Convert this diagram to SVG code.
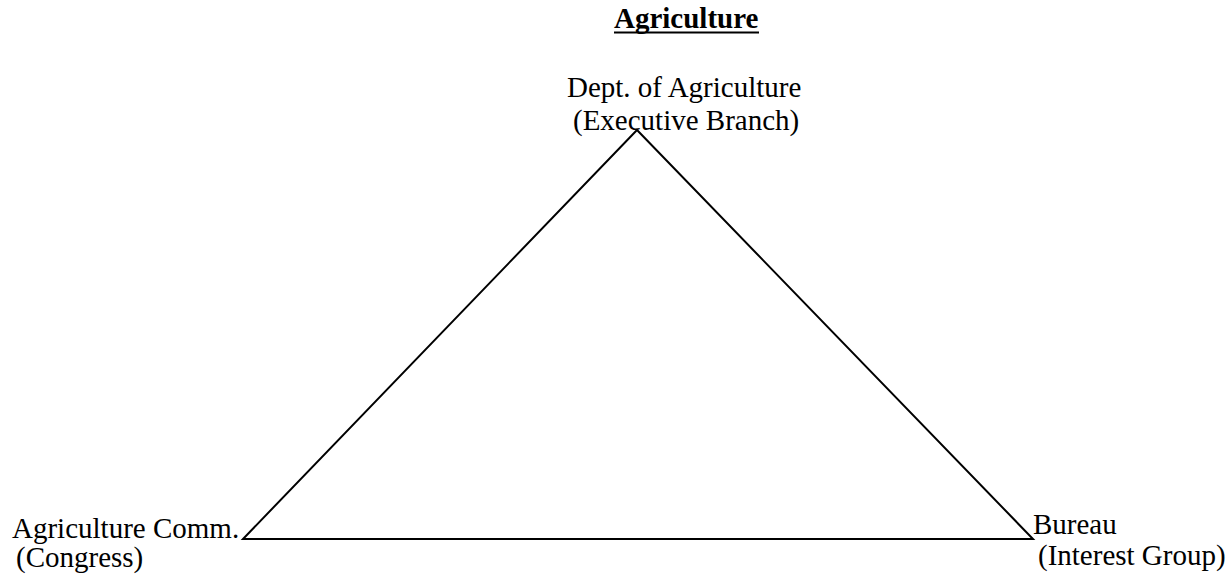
<svg xmlns="http://www.w3.org/2000/svg" width="1230" height="575" viewBox="0 0 1230 575">
<style>
text{font-family:"Liberation Serif","Times New Roman",serif;font-size:29px;fill:#000}
.t{font-weight:bold}
.e{fill:none;stroke:#000;stroke-width:2}
</style>
<rect width="1230" height="575" fill="#fff"/>
<g id="title">
<text class="t" x="614" y="28">Agriculture</text>
<line x1="614" y1="32.5" x2="759" y2="32.5" stroke="#000" stroke-width="2"/>
</g>
<g id="connectors">
<polygon class="e" points="637,130 243,539 1033,539"/>
</g>
<g id="node-dept">
<text x="567" y="97">Dept. of Agriculture</text>
<text x="573" y="130">(Executive Branch)</text>
</g>
<g id="node-comm">
<text x="12" y="538">Agriculture Comm.</text>
<text x="16" y="567">(Congress)</text>
</g>
<g id="node-bureau">
<text x="1033" y="534">Bureau</text>
<text x="1038" y="565">(Interest Group)</text>
</g>
</svg>
